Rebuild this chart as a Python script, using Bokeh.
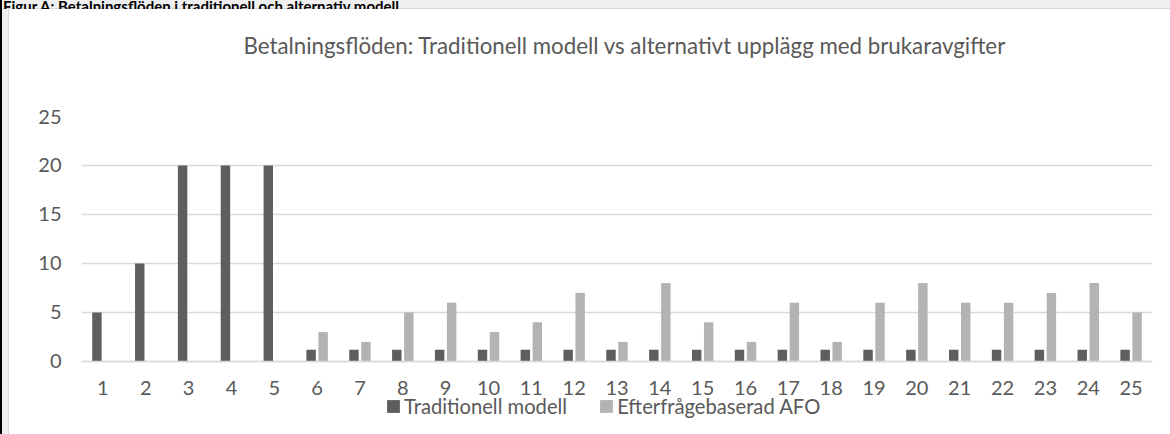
from bokeh.plotting import figure
from bokeh.models import (ColumnDataSource, Range1d, FixedTicker, Legend, LegendItem, Title, Div)
from bokeh.layouts import column, row
from bokeh.transform import dodge
from bokeh.embed import file_html
from bokeh.resources import INLINE

# ---- data ----
periods = list(range(1, 26))
traditionell = [5, 10, 20, 20, 20, 1.2, 1.2, 1.2, 1.2, 1.2, 1.2, 1.2, 1.2, 1.2, 1.2,
                1.2, 1.2, 1.2, 1.2, 1.2, 1.2, 1.2, 1.2, 1.2, 1.2]
efterfragebaserad = [0, 0, 0, 0, 0, 3, 2, 5, 6, 3, 4, 7, 2, 8, 4, 2, 6, 2, 6, 8, 6, 6, 7, 8, 5]
y_ticks = [0, 5, 10, 15, 20, 25]
series_names = ["Traditionell modell", "Efterfrågebaserad AFO"]
title_text = "Betalningsflöden: Traditionell modell vs alternativt upplägg med brukaravgifter"
heading_text = "Figur A: Betalningsflöden i traditionell och alternativ modell"

DARK = "#5e5e5e"
LIGHT = "#b3b3b3"
TEXT = "#595959"
GRID = "#d9d9d9"
FONT = "Lato"

src = ColumnDataSource(dict(x=periods, trad=traditionell, afo=efterfragebaserad))

# frame extends below zero so that the legend (drawn inside the frame) is not clipped
p = figure(width=1161, height=425, output_backend="svg", toolbar_location=None,
           x_range=Range1d(0.5, 25.5), y_range=Range1d(-7.45, 25),
           min_border_left=72, min_border_right=18, min_border_top=107, min_border_bottom=0,
           margin=0)
p.outline_line_color = None
p.background_fill_color = "white"
p.border_fill_color = "white"

r1 = p.vbar(x=dodge("x", -0.14, range=p.x_range), top="trad", width=0.22, source=src,
            fill_color=DARK, line_color=None)
r2 = p.vbar(x=dodge("x", 0.14, range=p.x_range), top="afo", width=0.22, source=src,
            fill_color=LIGHT, line_color=None)

# axes
p.xaxis.ticker = FixedTicker(ticks=periods)
p.yaxis.ticker = FixedTicker(ticks=y_ticks)
for ax in (p.xaxis[0], p.yaxis[0]):
    ax.major_tick_line_color = None
    ax.minor_tick_line_color = None
    ax.major_tick_out = 0
    ax.major_tick_in = 0
    ax.major_label_text_font = FONT
    ax.major_label_text_font_size = "20px"
    ax.major_label_text_color = TEXT
p.yaxis.axis_line_color = None
p.yaxis.major_label_standoff = 20
p.xaxis.fixed_location = 0
p.xaxis.axis_line_color = GRID
p.xaxis.axis_line_width = 1.3
p.xaxis.major_label_standoff = 20

p.xgrid.grid_line_color = None
p.ygrid.grid_line_color = GRID
p.ygrid.grid_line_width = 1.3

# spacer between frame and title, then title
p.add_layout(Title(text=" ", text_font_size="1px", standoff=50), "above")
p.add_layout(Title(text=title_text, align="left", offset=162, standoff=10,
                   text_font=FONT, text_font_size="22.3px", text_font_style="normal",
                   text_color=TEXT, vertical_align="bottom"), "above")

legend = Legend(items=[LegendItem(label=series_names[0], renderers=[r1]),
                       LegendItem(label=series_names[1], renderers=[r2])],
                orientation="horizontal", location=(304, 16),
                glyph_width=16, glyph_height=16, label_standoff=3, spacing=31,
                padding=0, margin=0, border_line_color=None, background_fill_alpha=0,
                label_text_font=FONT, label_text_font_size="20.2px", label_text_color=TEXT)
p.add_layout(legend, "center")

# page frame around the chart: clipped document heading on top, grey strip on the left
top_strip = Div(
    text=('<div style="font: bold 15px Lato, sans-serif; color: #000; line-height: 18px; '
          'margin-top: -10px; white-space: nowrap; padding-left: 3px;">' + heading_text + '</div>'),
    width=1170, height=9, margin=0,
    styles={"overflow": "hidden",
            "background": "linear-gradient(to right, #000 0 2px, transparent 2px), "
                          "linear-gradient(to bottom, #f0f0f0 0 8px, #d9d9d9 8px 9px)"})
left_strip = Div(text="", width=9, height=425, margin=0,
                 styles={"background": "linear-gradient(to right, #000 0 2px, #f0f0f0 2px 8px, "
                                       "#d9d9d9 8px 9px)"})

layout = column(top_strip, row(left_strip, p, spacing=0, margin=0), spacing=0, margin=0)

open("out.html", "w").write(file_html(layout, INLINE))
